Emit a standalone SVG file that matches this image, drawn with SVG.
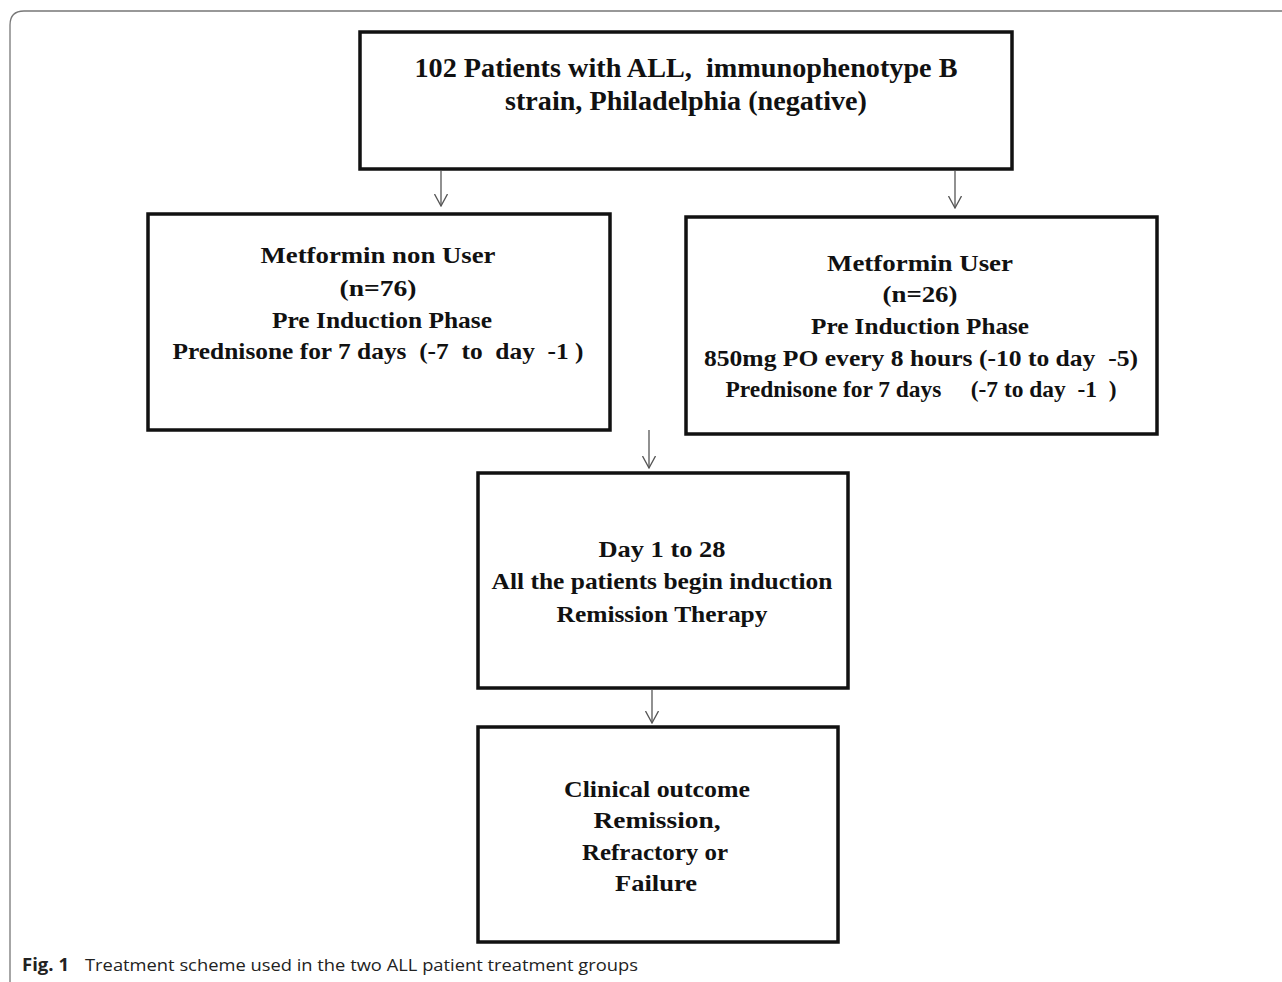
<svg xmlns="http://www.w3.org/2000/svg" width="1282" height="982" viewBox="0 0 1282 982">
<style>
.box{fill:#fff;stroke:#111;stroke-width:3.5}
.t{font-family:"Liberation Serif","Times New Roman",serif;font-weight:bold;fill:#111;text-anchor:middle;white-space:pre}
.t22{font-size:24px}
.t25{font-size:27px}
.conn{stroke:#555;stroke-width:1.3;fill:none}
.frame{stroke:#777;stroke-width:1.3;fill:none}
.cap{font-family:"Open Sans","Liberation Sans",sans-serif;font-size:17px;fill:#222}
</style>
<defs>
<marker id="arr" viewBox="0 0 13 14" refX="12.5" refY="7" markerWidth="13" markerHeight="14" markerUnits="userSpaceOnUse" orient="auto">
<path d="M0.5,0.5 L12.5,7 L0.5,13.5" fill="none" stroke="#555" stroke-width="1.3"/>
</marker>
</defs>
<rect width="1282" height="982" fill="#fff"/>
<path class="frame" d="M10,982 L10,25 Q10,11 24,11 L1282,11"/>

<g id="n-top">
<rect class="box" x="360" y="32" width="652" height="137"/>
<text class="t t25" x="686" y="77" textLength="543" lengthAdjust="spacingAndGlyphs">102 Patients with ALL,  immunophenotype B</text>
<text class="t t25" x="686" y="110" textLength="362" lengthAdjust="spacingAndGlyphs">strain, Philadelphia (negative)</text>
</g>

<g id="n-nonuser">
<rect class="box" x="148" y="214" width="462" height="216"/>
<text class="t t22" x="378" y="263" textLength="235" lengthAdjust="spacingAndGlyphs">Metformin non User</text>
<text class="t t22" x="378" y="296" textLength="77" lengthAdjust="spacingAndGlyphs">(n=76)</text>
<text class="t t22" x="382" y="328" textLength="220" lengthAdjust="spacingAndGlyphs">Pre Induction Phase</text>
<text class="t t22" x="378" y="359" textLength="411" lengthAdjust="spacingAndGlyphs">Prednisone for 7 days  (-7  to  day  -1 )</text>
</g>

<g id="n-user">
<rect class="box" x="686" y="217" width="471" height="217"/>
<text class="t t22" x="920" y="271" textLength="186" lengthAdjust="spacingAndGlyphs">Metformin User</text>
<text class="t t22" x="920" y="302" textLength="75" lengthAdjust="spacingAndGlyphs">(n=26)</text>
<text class="t t22" x="920" y="334" textLength="218" lengthAdjust="spacingAndGlyphs">Pre Induction Phase</text>
<text class="t t22" x="921" y="366" textLength="434" lengthAdjust="spacingAndGlyphs">850mg PO every 8 hours (-10 to day  -5)</text>
<text class="t t22" x="921" y="397" textLength="391" lengthAdjust="spacingAndGlyphs">Prednisone for 7 days     (-7 to day  -1  )</text>
</g>

<g id="n-induction">
<rect class="box" x="478" y="473" width="370" height="215"/>
<text class="t t22" x="662" y="557" textLength="127" lengthAdjust="spacingAndGlyphs">Day 1 to 28</text>
<text class="t t22" x="662" y="589" textLength="341" lengthAdjust="spacingAndGlyphs">All the patients begin induction</text>
<text class="t t22" x="662" y="622" textLength="211" lengthAdjust="spacingAndGlyphs">Remission Therapy</text>
</g>

<g id="n-outcome">
<rect class="box" x="478" y="727" width="360" height="215"/>
<text class="t t22" x="657" y="797" textLength="186" lengthAdjust="spacingAndGlyphs">Clinical outcome</text>
<text class="t t22" x="657" y="828" textLength="127" lengthAdjust="spacingAndGlyphs">Remission,</text>
<text class="t t22" x="655" y="860" textLength="146" lengthAdjust="spacingAndGlyphs">Refractory or</text>
<text class="t t22" x="656" y="891" textLength="82" lengthAdjust="spacingAndGlyphs">Failure</text>
</g>

<g id="connectors">
<line class="conn" x1="441" y1="171" x2="441" y2="206" marker-end="url(#arr)"/>
<line class="conn" x1="955" y1="171" x2="955" y2="208" marker-end="url(#arr)"/>
<line class="conn" x1="649" y1="430" x2="649" y2="468" marker-end="url(#arr)"/>
<line class="conn" x1="652" y1="690" x2="652" y2="723" marker-end="url(#arr)"/>
</g>

<g id="caption">
<text class="cap" x="22" y="971" font-weight="bold" textLength="47" lengthAdjust="spacingAndGlyphs">Fig. 1</text>
<text class="cap" x="85" y="971" textLength="553" lengthAdjust="spacingAndGlyphs">Treatment scheme used in the two ALL patient treatment groups</text>
</g>
</svg>
